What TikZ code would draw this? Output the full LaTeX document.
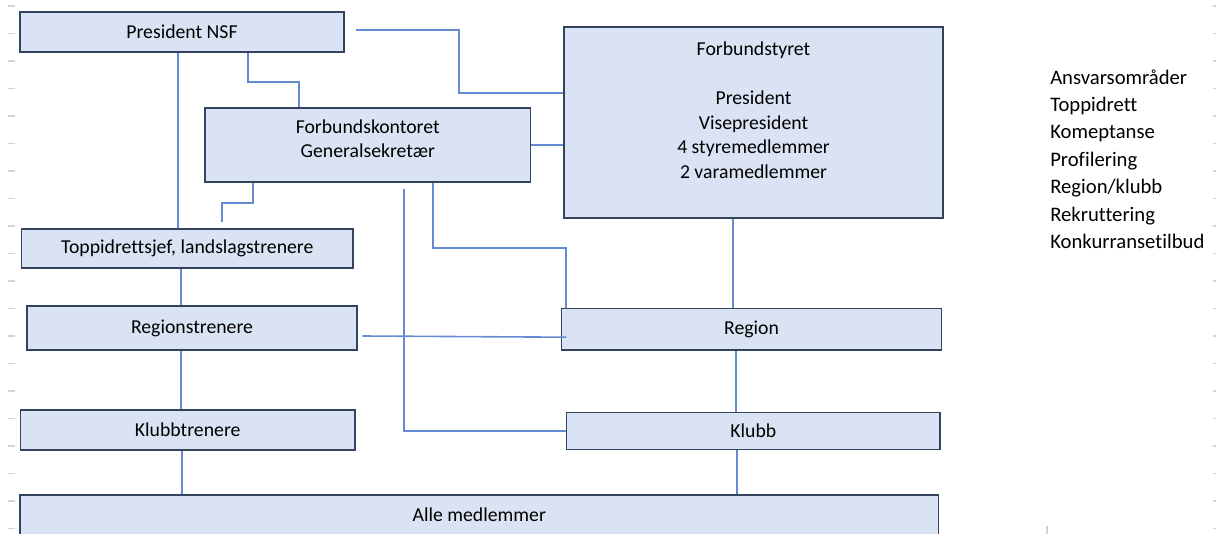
\documentclass[tikz,border=0pt]{standalone}
\usepackage{fontspec}
\setmainfont{Carlito}[Ligatures=CommonOff]
\usepackage{xcolor}
\definecolor{boxfill}{HTML}{DAE3F3}
\definecolor{boxline}{HTML}{34445F}
\definecolor{linkblue}{HTML}{658CD3}
\definecolor{tickgray}{HTML}{D4D4D4}

\begin{document}
\begin{tikzpicture}[x=0.75pt,y=-0.75pt,
  box/.style={draw=boxline,fill=boxfill,line width=1.1pt,inner sep=0,align=center,font=\fontsize{14.8}{18.4}\selectfont},
  link/.style={draw=linkblue,line width=1.2pt},
  tick/.style={draw=tickgray,line width=0.9pt}]
\useasboundingbox (0,0) rectangle (1216,534);
\foreach \k in {0,...,19} {
  \draw[tick] (8,{6+27.5*\k}) -- (15,{6+27.5*\k});
  \draw[tick] (1213,{6+27.5*\k}) -- (1216,{6+27.5*\k});
}
\draw[tick] (1047,526) -- (1047,534);
\node[box,minimum width=243pt,minimum height=30pt] (pres) at (182,32) {President NSF};
\node[box,minimum width=244.1pt,minimum height=55.5pt,text depth=9.5pt] (kontor) at (367.75,145) {Forbundskontoret\\Generalsekretær};
\node[box,minimum width=284.25pt,minimum height=143.25pt] (styret) at (753.5,122.5) {Forbundstyret\\ \\President\\Visepresident\\4 styremedlemmer\\2 varamedlemmer\\ };
\node[box,minimum width=248.5pt,minimum height=29.25pt] (topp) at (187.3,248.5) {Toppidrettsjef, landslagstrenere};
\node[box,minimum width=247.5pt,minimum height=33.2pt] (regtr) at (192,328) {Regionstrenere};
\node[box,minimum width=251pt,minimum height=30pt] (klubtr) at (187.7,430) {Klubbtrenere};
\node[box,minimum width=285.3pt,minimum height=31.3pt] (region) at (751.5,329.2) {Region};
\node[box,minimum width=280pt,minimum height=28pt] (klubb) at (753.3,431) {Klubb};
\node[box,minimum width=688.9pt,minimum height=30pt] (alle) at (479.25,515) {Alle medlemmer};
\node[anchor=west,align=left,inner sep=0,font=\fontsize{15.5}{20.6}\selectfont] (ansvar) at (1050,159.2) {Ansvarsområder\\Toppidrett\\Komeptanse\\Profilering\\Region/klubb\\Rekruttering\\Konkurransetilbud};
\draw[link] (pres.south -| 178,0) -- (topp.north -| 178,0);
\draw[link] (topp.south -| 181,0) -- (regtr.north -| 181,0);
\draw[link] (regtr.south -| 181,0) -- (klubtr.north -| 181,0);
\draw[link] (klubtr.south -| 182,0) -- (alle.north -| 182,0);
\draw[link] (pres.south -| 248,0) -- ++(0,29) -| (kontor.north -| 299,0);
\draw[link] ([xshift=8.25pt,yshift=1.5pt]pres.east) -| (459,93) -- (styret.west |- 459,93);
\draw[link] (kontor.east) -- (styret.west |- kontor.east);
\draw[link] (kontor.south -| 253,0) -- ++(0,20) -| ([yshift=4.5pt]topp.north -| 222,0);
\draw[link] (kontor.south -| 433,0) -- ++(0,65) -| (region.north -| 566,0);
\draw[link] ([yshift=-5pt]kontor.south -| 404,0) |- (klubb.west);
\draw[link] ([xshift=3.5pt,yshift=-6pt]regtr.east) -- ([xshift=4.3pt,yshift=-6pt]region.west);
\draw[link] (styret.south -| 733,0) -- (region.north -| 733,0);
\draw[link] (region.south -| 736,0) -- (klubb.north -| 736,0);
\draw[link] (klubb.south -| 737,0) -- (alle.north -| 737,0);
\end{tikzpicture}
\end{document}
